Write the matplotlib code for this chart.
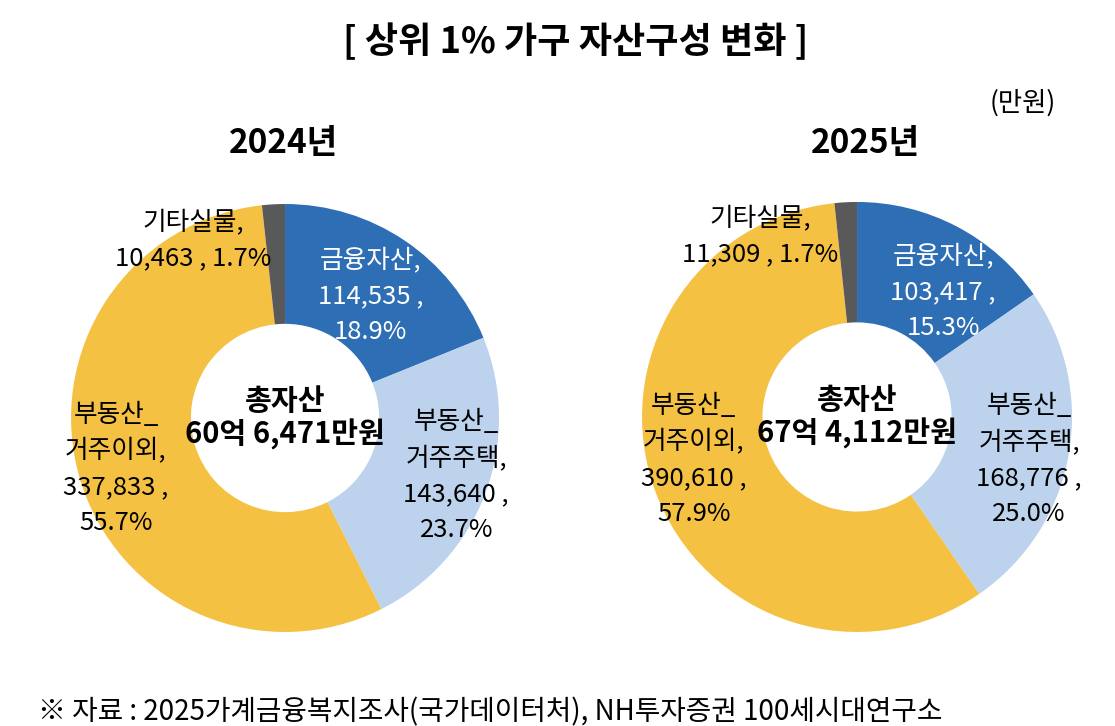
import matplotlib
matplotlib.use('Agg')
import matplotlib.pyplot as plt

plt.rcParams['font.family'] = ['Noto Sans CJK KR', 'DejaVu Sans']

# 데이터 (만원)
categories = ['금융자산', '부동산_거주주택', '부동산_거주이외', '기타실물']
label_heads = ['금융자산,', '부동산_\n거주주택,', '부동산_\n거주이외,', '기타실물,']
years = ['2024년', '2025년']
values_2024 = [114535, 143640, 337833, 10463]
values_2025 = [103417, 168776, 390610, 11309]

colors = ['#2E6EB5', '#BDD2EC', '#F4C143', '#595959']
text_colors = ['white', 'black', 'black', 'black']

# 라벨 위치 (반지름 1 기준)
label_pos_2024 = [(0.40, 0.57), (0.80, -0.27), (-0.79, -0.24), (-0.43, 0.83)]
label_pos_2025 = [(0.40, 0.58), (0.80, -0.20), (-0.76, -0.20), (-0.45, 0.84)]


def total_text(total):
    eok = total // 10000
    man = total % 10000
    return f'총자산\n{eok}억 {man:,}만원'


def value_label(i, v, pct):
    head = label_heads[i]
    if i == 3:
        return f'{head}\n{v:,} , {pct:.1f}%'
    return f'{head}\n{v:,} ,\n{pct:.1f}%'


def donut(ax, values, positions):
    total = sum(values)
    ax.pie(values, colors=colors, startangle=90, counterclock=False,
           radius=1, wedgeprops=dict(width=0.56, edgecolor='none'))
    ax.set_xlim(-1, 1)
    ax.set_ylim(-1, 1)
    ax.set_aspect('equal')
    ax.axis('off')
    for i, v in enumerate(values):
        pct = v / total * 100
        x, y = positions[i]
        ax.text(x, y, value_label(i, v, pct), ha='center', va='center',
                fontsize=18.5, color=text_colors[i], linespacing=1.5)
    ax.text(0, 0.0, total_text(total), ha='center', va='center',
            fontsize=21, fontweight='bold', linespacing=1.1)


fig = plt.figure(figsize=(11.15, 7.26), dpi=100)

ax1 = fig.add_axes([0.0637, 0.1295, 0.3839, 0.5895])
donut(ax1, values_2024, label_pos_2024)
ax2 = fig.add_axes([0.5758, 0.1295, 0.3857, 0.5923])
donut(ax2, values_2025, label_pos_2025)

fig.text(0.516, 0.941, '[ 상위 1% 가구 자산구성 변화 ]', ha='center', va='center',
         fontsize=26, fontweight='bold')
fig.text(0.917, 0.858, '(만원)', ha='center', va='center', fontsize=19)
fig.text(0.254, 0.803, years[0], ha='center', va='center', fontsize=24, fontweight='bold')
fig.text(0.776, 0.803, years[1], ha='center', va='center', fontsize=24, fontweight='bold')
fig.text(0.034, 0.019, '※ 자료 : 2025가계금융복지조사(국가데이터처), NH투자증권 100세시대연구소',
         ha='left', va='center', fontsize=20)

fig.savefig('out.png', dpi=100)
